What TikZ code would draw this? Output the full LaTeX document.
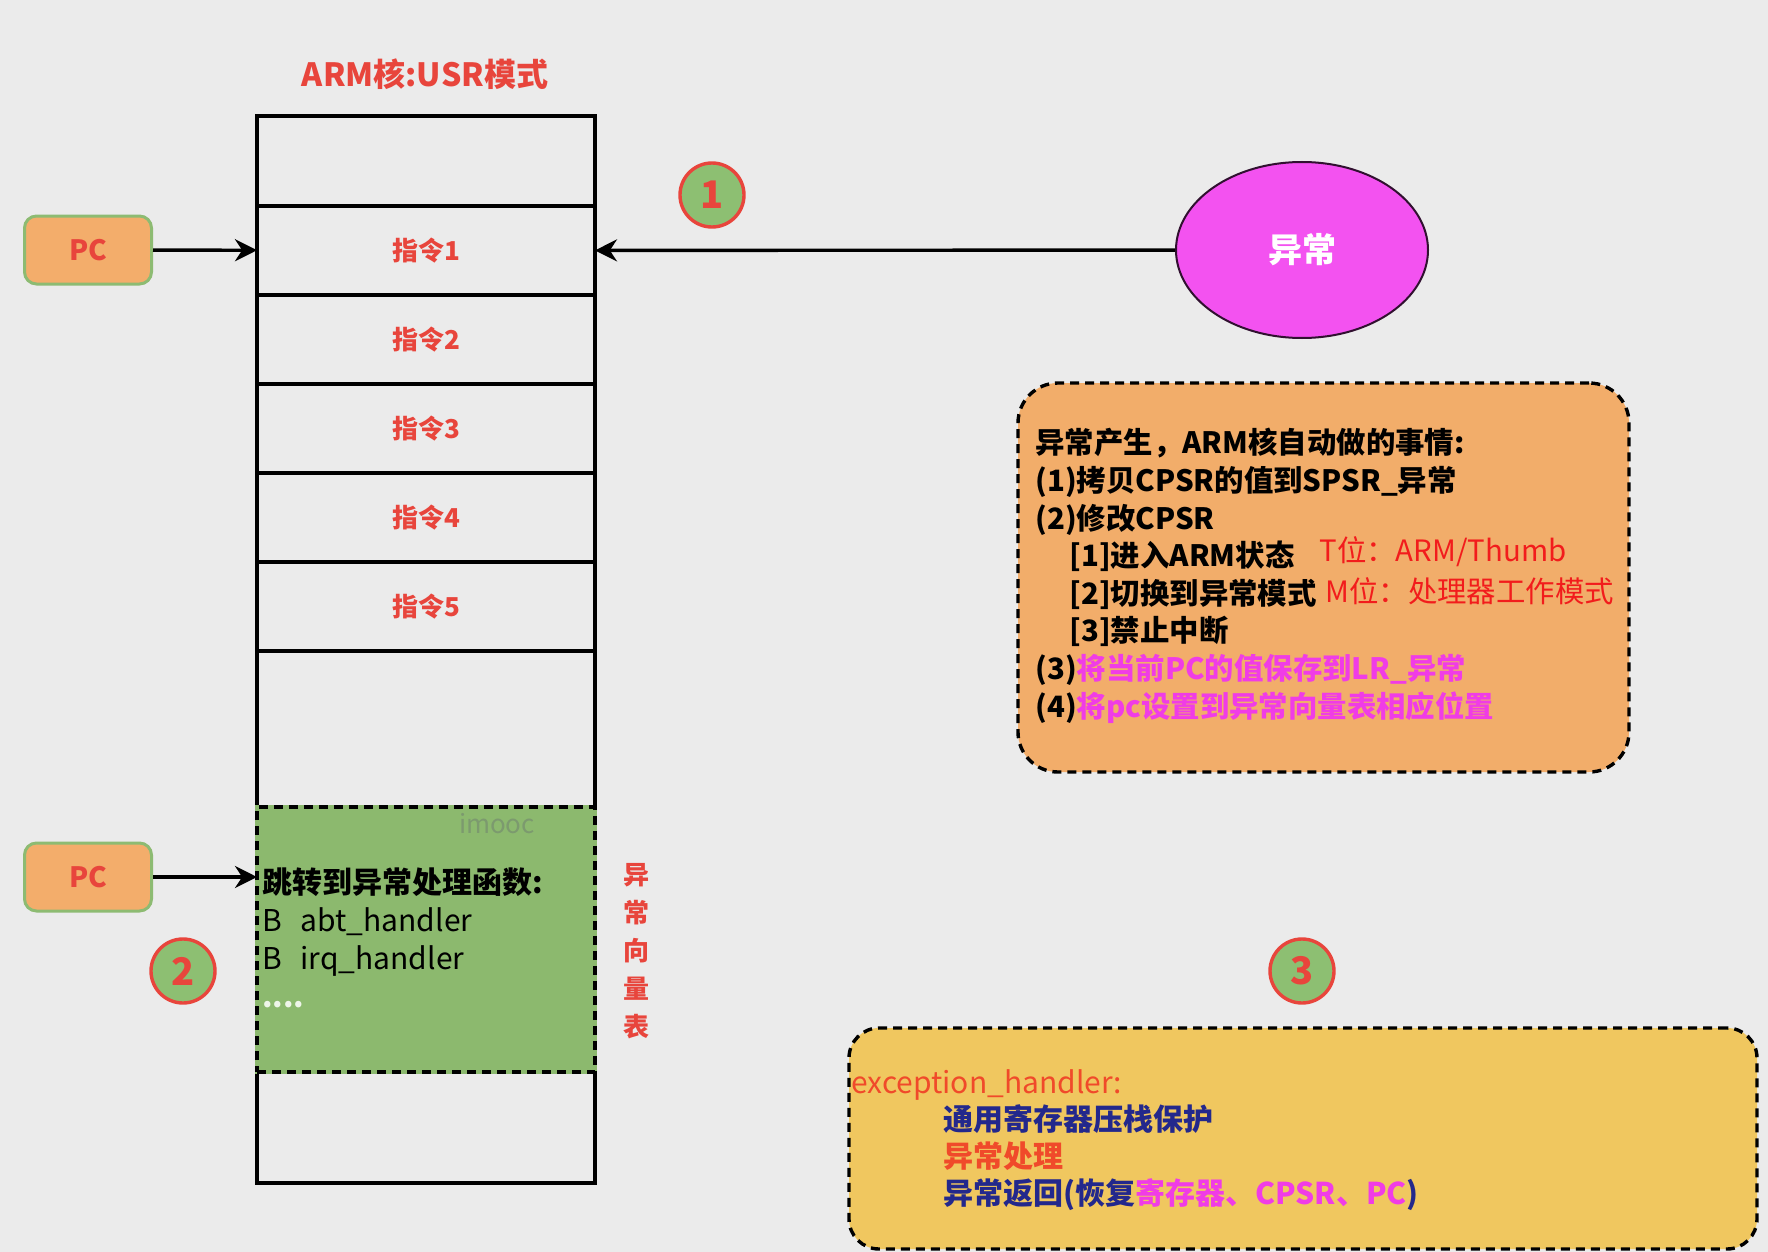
\documentclass[tikz,border=0pt]{standalone}
\usepackage{fontspec}
\setmainfont{Noto Sans CJK SC}
\usetikzlibrary{shapes.geometric, arrows.meta, positioning, calc}

\newcommand{\setfs}[2]{\fontsize{#1pt}{#2pt}\selectfont}

\definecolor{bggray}{HTML}{EBEBEB}
\definecolor{labelred}{HTML}{E8453C}
\definecolor{pcfill}{HTML}{F3AD6B}
\definecolor{pcline}{HTML}{8DBB72}
\definecolor{circfill}{HTML}{8DBF72}
\definecolor{vecgreen}{HTML}{8CB96E}
\definecolor{excmag}{HTML}{F352F0}
\definecolor{notefill}{HTML}{F2AD6A}
\definecolor{handlerfill}{HTML}{F0C75F}
\definecolor{textmag}{HTML}{F03CE6}
\definecolor{navy}{HTML}{23288C}
\definecolor{brightred}{HTML}{F21C1C}
\definecolor{handlerred}{HTML}{F04A2A}
\definecolor{wmgray}{HTML}{7C9A6E}

\begin{document}
\begin{tikzpicture}[
    x=0.5pt, y=-0.5pt,
    rowbox/.style={rectangle, draw, line width=1.7pt, minimum width=169pt, outer sep=0pt, inner sep=0pt, text=labelred, font=\bfseries\setfs{13}{15}},
    vecbox/.style={rectangle, draw, dash pattern=on 4.5pt off 3pt, line width=1.7pt, fill=vecgreen, minimum width=169pt, minimum height=132.5pt, outer sep=0pt, preaction={draw=vecgreen, solid, line width=1.7pt}},
    pcbox/.style={rectangle, rounded corners=6pt, draw=pcline, fill=pcfill, line width=1.5pt, minimum width=63.5pt, minimum height=34pt, text=labelred, font=\bfseries\setfs{14}{16}},
    stepnum/.style={circle, draw=labelred, fill=circfill, line width=1.7pt, minimum size=32pt, inner sep=0pt, text=labelred, font=\bfseries\setfs{19}{21}},
    excnode/.style={ellipse, draw=black!80!excmag, fill=excmag, line width=1pt, minimum width=126pt, minimum height=88pt, text=white, font=\bfseries\setfs{17}{19}},
    notebox/.style={rectangle, rounded corners=20pt, draw, dash pattern=on 4.5pt off 3pt, line width=1.7pt, fill=notefill, minimum width=305.5pt, minimum height=194.5pt},
    handlerbox/.style={rectangle, rounded corners=15pt, draw, dash pattern=on 4.5pt off 3pt, line width=1.7pt, fill=handlerfill, minimum width=454pt, minimum height=110.5pt},
    plain/.style={inner sep=0pt, anchor=north west, align=left},
    arrow/.style={-{Stealth[length=11pt, width=11pt]}, line width=1.7pt}
]
    \useasboundingbox (0,0) rectangle (1768,1252);
    \fill[bggray] (0,0) rectangle (1768,1252);

    % ARM core memory column
    \node[text=labelred, font=\bfseries\setfs{16}{18}] (title) at (425,74) {ARM核:USR模式};
    \node[rowbox, minimum height=45pt, anchor=north] (r0) at (426,116) {};
    \node[rowbox, minimum height=44.5pt, below=0pt of r0] (r1) {指令1};
    \node[rowbox, minimum height=44.5pt, below=0pt of r1] (r2) {指令2};
    \node[rowbox, minimum height=44.5pt, below=0pt of r2] (r3) {指令3};
    \node[rowbox, minimum height=44.5pt, below=0pt of r3] (r4) {指令4};
    \node[rowbox, minimum height=44.5pt, below=0pt of r4] (r5) {指令5};
    \node[rowbox, minimum height=78pt, below=0pt of r5] (r6) {};
    \node[rowbox, minimum height=55.5pt, below=132.5pt of r6] (r7) {};
    \node[vecbox, below=0pt of r6] (vec) {};
    \node[text=wmgray, font=\setfs{13}{15}] (wm) at (497,824) {imooc};
    \node[plain, font=\setfs{15}{19}] (vectext) at (262,867) {\textbf{跳转到异常处理函数:}\\B\ \ \,abt\_handler\\B\ \ \,irq\_handler\\{\color{white!85!vecgreen}\bfseries....}};
    \node[align=center, text=labelred, font=\bfseries\setfs{13}{19}] (vtitle) at (636,951) {异\\常\\向\\量\\表};

    % PC pointers
    \node[pcbox] (pc1) at (88,250) {PC};
    \node[pcbox] (pc2) at (88,877) {PC};
    \draw[arrow] (pc1) -- (r1);
    \draw[arrow] (pc2) -- (pc2 -| vec.west);

    % exception
    \node[excnode] (exc) at (1302,250) {异常};
    \draw[arrow] (exc) -- (r1);

    \node[stepnum] (n1) at (712,195) {1};
    \node[stepnum] (n2) at (183,971) {2};
    \node[stepnum] (n3) at (1302,971) {3};

    % what the core does
    \node[notebox] (note) at (1323.5,577.5) {};
    \node[plain, font=\bfseries\setfs{14.7}{18.8}] (notetext) at (1035,428) {异常产生，ARM核自动做的事情:\\(1)拷贝CPSR的值到SPSR\_异常\\(2)修改CPSR\\\hspace{17pt}[1]进入ARM状态\\\hspace{17pt}[2]切换到异常模式\\\hspace{17pt}[3]禁止中断\\(3){\color{textmag}将当前PC的值保存到LR\_异常}\\(4){\color{textmag}将pc设置到异常向量表相应位置}};
    \node[anchor=west, inner sep=0pt, text=brightred, font=\setfs{14.7}{17}] (tbit) at (1319,552) {T位：ARM/Thumb};
    \node[anchor=west, inner sep=0pt, text=brightred, font=\setfs{14.7}{17}] (mbit) at (1325,591) {M位：处理器工作模式};

    % handler
    \node[handlerbox] (handler) at (1303,1138.5) {};
    \node[plain, font=\setfs{15}{18.5}] (handlertext) at (851,1069) {{\color{handlerred}exception\_handler:}\\\hspace{46pt}{\bfseries\color{navy}通用寄存器压栈保护}\\\hspace{46pt}{\bfseries\color{handlerred}异常处理}\\\hspace{46pt}{\bfseries\color{navy}异常返回(恢复{\color{textmag}寄存器、CPSR、PC})}};
\end{tikzpicture}
\end{document}
